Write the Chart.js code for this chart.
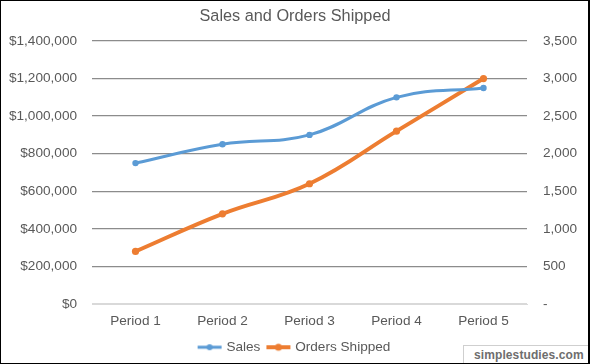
<!DOCTYPE html>
<html>
<head>
<meta charset="utf-8">
<script src="https://cdn.jsdelivr.net/npm/chart.js@4.4.1/dist/chart.umd.min.js"></script>
<style>
  html, body { margin: 0; padding: 0; background: #fff; }
  #wrap { position: relative; width: 590px; height: 364px; overflow: hidden; }
  #c { position: absolute; left: 0; top: 0; }
  #frame { position: absolute; left: 0; top: 0; width: 590px; height: 364px; box-sizing: border-box; border: 1px solid #000; border-right-width: 2px; pointer-events: none; }
  #wm { position: absolute; left: 463px; top: 345px; width: 140px; height: 30px; border: 1px solid #cfcfcf; background: #fff;
        font: bold 12px "Liberation Sans", Arial, sans-serif; color: #6e6e6e; box-sizing: border-box; padding: 2px 0 0 10px; letter-spacing: 0.1px; }
</style>
</head>
<body>
<div id="wrap">
  <canvas id="c" width="590" height="364"></canvas>
  <div id="wm">simplestudies.com</div>
  <div id="frame"></div>
</div>
<script>
const categories = ["Period 1", "Period 2", "Period 3", "Period 4", "Period 5"];
const salesValues = [750000, 850000, 900000, 1100000, 1150000];
const ordersValues = [700, 1200, 1600, 2300, 3000];
const leftTicks = [0, 200000, 400000, 600000, 800000, 1000000, 1200000, 1400000];
const rightTicks = [0, 500, 1000, 1500, 2000, 2500, 3000, 3500];

const FONT = "'Liberation Sans', Arial, sans-serif";
const TXT = "#595959";
const TICK_SIZE = 13.6;
const LEG_PAD = 8;

function legendMarker(color, lw, r) {
  const cv = document.createElement('canvas');
  cv.width = 26; cv.height = 10;
  const g = cv.getContext('2d');
  g.strokeStyle = color; g.lineWidth = lw;
  g.beginPath(); g.moveTo(1, 5); g.lineTo(25, 5); g.stroke();
  g.fillStyle = color; g.beginPath(); g.arc(13, 5, r, 0, Math.PI * 2); g.fill();
  return cv;
}
const salesMarker = legendMarker('#5B9BD5', 3, 3);
const ordersMarker = legendMarker('#ED7D31', 4, 3.5);

const fmtMoney = v => '$' + Number(v).toLocaleString('en-US');
const fmtNum = v => v === 0 ? '-' : Number(v).toLocaleString('en-US');

const legendHeight = TICK_SIZE + LEG_PAD + 10;

new Chart(document.getElementById('c'), {
  type: 'line',
  data: {
    labels: categories,
    datasets: [
      { label: 'Sales', data: salesValues, yAxisID: 'y', borderColor: '#5B9BD5', backgroundColor: '#5B9BD5',
        borderWidth: 3, pointRadius: 3.2, pointHoverRadius: 3.2, tension: 0.4, pointStyle: 'circle', fill: false,
        pointBorderWidth: 0 },
      { label: 'Orders Shipped', data: ordersValues, yAxisID: 'y1', borderColor: '#ED7D31', backgroundColor: '#ED7D31',
        borderWidth: 4, pointRadius: 3.6, pointHoverRadius: 3.6, tension: 0.4, pointStyle: 'circle', fill: false,
        pointBorderWidth: 0 }
    ]
  },
  options: {
    responsive: false,
    animation: false,
    devicePixelRatio: 1,
    layout: { padding: { left: 0, right: 0, top: 0, bottom: 0 } },
    plugins: {
      title: { display: true, text: 'Sales and Orders Shipped', color: TXT,
        font: { family: FONT, size: 16.3, weight: 'normal' }, padding: { top: 7, bottom: 14.4 } },
      legend: {
        position: 'bottom',
        labels: {
          color: TXT, font: { family: FONT, size: TICK_SIZE }, usePointStyle: true, pointStyleWidth: 20,
          padding: LEG_PAD,
          generateLabels: (chart) => [
            { text: 'Sales', pointStyle: salesMarker, fillStyle: '#5B9BD5', strokeStyle: '#5B9BD5', lineWidth: 0, datasetIndex: 0, fontColor: TXT },
            { text: 'Orders Shipped', pointStyle: ordersMarker, fillStyle: '#ED7D31', strokeStyle: '#ED7D31', lineWidth: 0, datasetIndex: 1, fontColor: TXT }
          ]
        }
      },
      tooltip: { enabled: false }
    },
    scales: {
      x: {
        offset: true,
        grid: { display: false, drawTicks: false },
        border: { display: true, color: '#d9d9d9', width: 1 },
        ticks: { color: TXT, font: { family: FONT, size: TICK_SIZE }, padding: 9 },
        afterFit: s => { s.height = 364 - 304 - legendHeight; }
      },
      y: {
        position: 'left', min: 0, max: 1400000,
        afterBuildTicks: s => { s.ticks = leftTicks.map(v => ({ value: v })); },
        grid: { color: ctx => ctx.tick && ctx.tick.value === 0 ? '#d9d9d9' : '#8c8c8c', lineWidth: 1.3, drawTicks: false },
        border: { display: false },
        ticks: { color: TXT, font: { family: FONT, size: TICK_SIZE }, padding: 15, callback: v => fmtMoney(v) },
        afterFit: s => { s.width = 92; }
      },
      y1: {
        position: 'right', min: 0, max: 3500,
        afterBuildTicks: s => { s.ticks = rightTicks.map(v => ({ value: v })); },
        grid: { display: false, drawTicks: false },
        border: { display: false },
        ticks: { color: TXT, font: { family: FONT, size: TICK_SIZE }, padding: 16, callback: v => fmtNum(v) },
        afterFit: s => { s.width = 63; }
      }
    }
  }
});
</script>
</body>
</html>
